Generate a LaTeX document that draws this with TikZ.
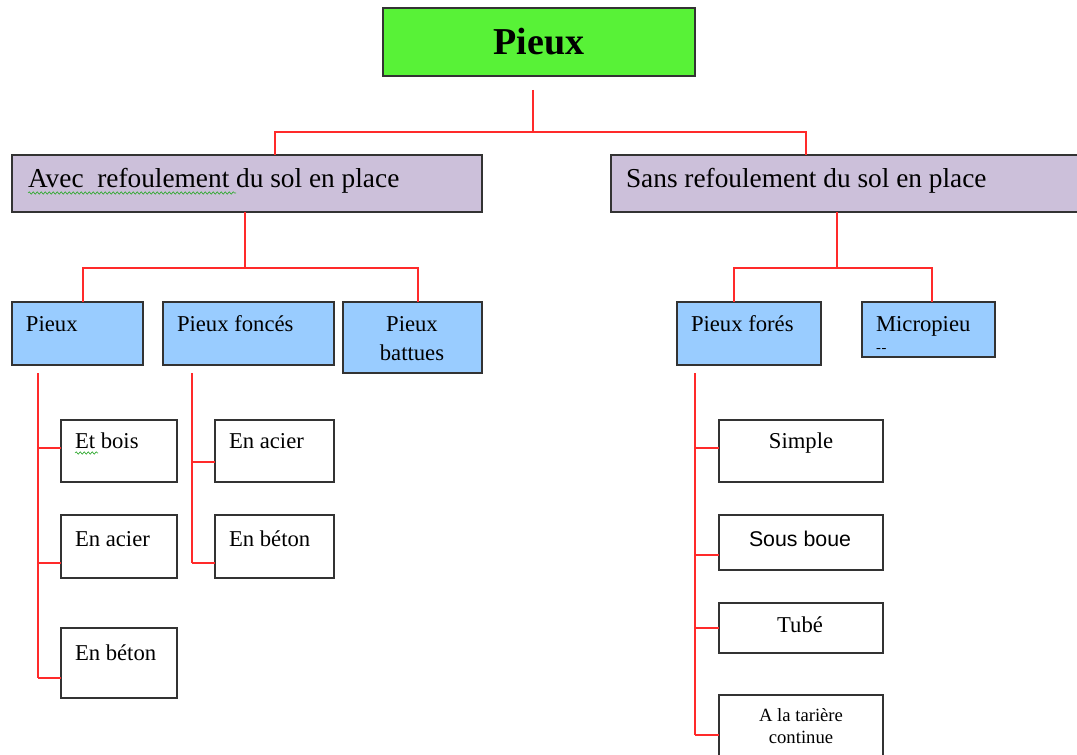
\documentclass[tikz,border=0pt]{standalone}
\usepackage{fontspec}
\setmainfont{Liberation Serif}
\newfontfamily\arialf{Liberation Sans}
\usetikzlibrary{decorations.pathmorphing}
\definecolor{topgreen}{HTML}{58F237}
\definecolor{lav}{HTML}{CCC0DA}
\definecolor{lblue}{HTML}{99CCFF}
\definecolor{edge}{HTML}{333333}
\definecolor{conn}{HTML}{FF2A2A}
\definecolor{squig}{HTML}{33AA33}
\newcommand\bx[6]{\node[#6, minimum width={0.75pt*(#4-#2)}, minimum height={0.75pt*(#5-#3)}] (#1) at ({(#2+#4)/2},{(#3+#5)/2}) {};}
\tikzset{
  boxbase/.style={draw=edge, line width=1.2pt, inner sep=0pt, outer sep=0pt, rectangle},
  rootbox/.style={boxbase, fill=topgreen},
  lavbox/.style={boxbase, fill=lav},
  bluebox/.style={boxbase, fill=lblue},
  whitebox/.style={boxbase, fill=white},
  txt/.style={inner sep=0pt, outer sep=0pt, text=black},
  big/.style={txt, font=\fontsize{20.5}{24}\selectfont},
  mid/.style={txt, font=\fontsize{17}{20}\selectfont},
  link/.style={draw=conn, line width=0.9pt},
  wavy/.style={draw=squig, line width=0.5pt, decorate, decoration={snake, amplitude=0.9pt, segment length=3pt}}
}
\begin{document}
\begin{tikzpicture}[x=0.75pt,y=-0.75pt]
\useasboundingbox (0,0) rectangle (1077,755);
% boxes
\bx{root}{383}{8}{695}{76}{rootbox}
\bx{avec}{12}{155}{482}{212}{lavbox}
\bx{sans}{611}{155}{1085}{212}{lavbox}
\bx{pieux}{12}{302}{143}{365}{bluebox}
\bx{foncés}{163}{302}{334}{365}{bluebox}
\bx{battues}{343}{302}{482}{373}{bluebox}
\bx{fores}{677}{302}{821}{365}{bluebox}
\bx{micro}{862}{302}{995}{357}{bluebox}
\bx{pbois}{61}{420}{177}{482}{whitebox}
\bx{pacier}{61}{515}{177}{578}{whitebox}
\bx{pbeton}{61}{628}{177}{698}{whitebox}
\bx{facier}{215}{420}{334}{482}{whitebox}
\bx{fbeton}{215}{515}{334}{578}{whitebox}
\bx{simple}{719}{420}{883}{482}{whitebox}
\bx{boue}{719}{515}{883}{570}{whitebox}
\bx{tube}{719}{603}{883}{653}{whitebox}
\bx{tariere}{719}{695}{883}{765}{whitebox}
% texts
\node[txt, font=\fontsize{28.5}{32}\selectfont\bfseries, anchor=base] (troot) at (539,55) {Pieux};
\node[big, anchor=base west] (tavec) at (28,188) {Avec\ \ refoulement du sol en place};
\node[big, anchor=base west] (tsans) at (626,188) {Sans refoulement du sol en place};
\node[mid, anchor=base west] (tpieux) at (26,332) {Pieux};
\node[mid, anchor=base west] (tfonces) at (177,332) {Pieux foncés};
\node[mid, anchor=base] (tbat1) at (412,332) {Pieux};
\node[mid, anchor=base] (tbat2) at (412,360) {battues};
\node[mid, anchor=base west] (tfores) at (691,332) {Pieux forés};
\node[mid, anchor=base west] (tmicro) at (876,332) {Micropieu};
\node[txt, font=\fontsize{11}{12}\selectfont, anchor=base west] (tdash) at (876,353) {-\kern0.5pt-};
\node[mid, anchor=base west] (tbois) at (75,448) {Et bois};
\node[mid, anchor=base west] (tpacier) at (75,546) {En acier};
\node[mid, anchor=base west] (tpbeton) at (75,660) {En béton};
\node[mid, anchor=base west] (tfacier) at (229,448) {En acier};
\node[mid, anchor=base west] (tfbeton) at (229,546) {En béton};
\node[mid, anchor=base] (tsimple) at (801,448) {Simple};
\node[txt, font=\arialf\fontsize{16}{19}\selectfont, anchor=base] (tboue) at (800,546) {Sous boue};
\node[mid, anchor=base] (ttube) at (800,632) {Tubé};
\node[txt, font=\fontsize{14}{16}\selectfont, anchor=base] (ttar1) at (801,721) {A la tarière};
\node[txt, font=\fontsize{14}{16}\selectfont, anchor=base] (ttar2) at (801,743) {continue};
% spell-check squiggles
\draw[wavy] (tavec.base west) ++(0,5) coordinate (sqa) -- ++(208,0);
\draw[wavy] (tbois.base west) ++(0,5) coordinate (sqb) -- ++(23,0);
% connectors
\coordinate (j0) at (533,90);
\coordinate (j1) at (533,132);
\draw[link] (j0) -- (j1);
\draw[link] (avec.north -| 275,0) |- (j1) -| (sans.north -| 806,0);
\coordinate (ja) at (245,268);
\draw[link] (avec.south -| ja) -- (ja);
\draw[link] (pieux.north -| 83,0) |- (ja) -| (battues.north -| 418,0);
\coordinate (jb) at (837,268);
\draw[link] (sans.south -| jb) -- (jb);
\draw[link] (fores.north -| 734,0) |- (jb) -| (micro.north -| 932,0);
% Pieux children
\coordinate (pp) at (38,373);
\draw[link] (pp) -- (38,678);
\draw[link] (pp |- 0,448) -- (pbois.west |- 0,448);
\draw[link] (pp |- 0,563) -- (pacier.west |- 0,563);
\draw[link] (pp |- 0,678) -- (pbeton.west |- 0,678);
% Pieux foncés children
\coordinate (fp) at (192,373);
\draw[link] (fp) -- (192,563);
\draw[link] (fp |- 0,462) -- (facier.west |- 0,462);
\draw[link] (fp |- 0,563) -- (fbeton.west |- 0,563);
% Pieux forés children
\coordinate (rp) at (695,373);
\draw[link] (rp) -- (695,735);
\draw[link] (rp |- 0,448) -- (simple.west |- 0,448);
\draw[link] (rp |- 0,555) -- (boue.west |- 0,555);
\draw[link] (rp |- 0,628) -- (tube.west |- 0,628);
\draw[link] (rp |- 0,735) -- (tariere.west |- 0,735);
\end{tikzpicture}
\end{document}
